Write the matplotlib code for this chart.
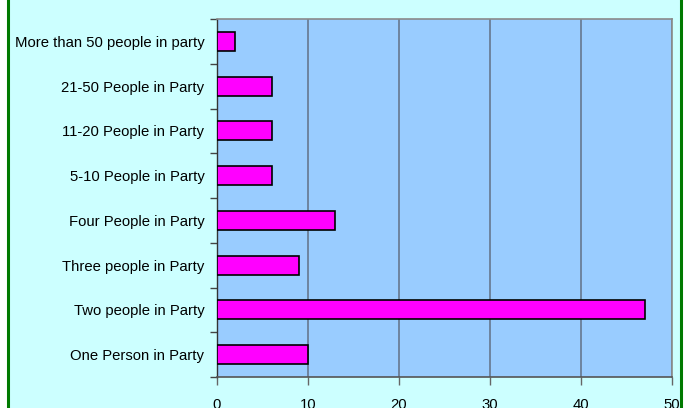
import matplotlib
matplotlib.use("Agg")
import matplotlib.pyplot as plt
from matplotlib.patches import Rectangle
from matplotlib.lines import Line2D

# categories bottom -> top
categories = ["One Person in Party", "Two people in Party", "Three people in Party",
              "Four People in Party", "5-10 People in Party", "11-20 People in Party",
              "21-50 People in Party", "More than 50 people in party"]
counts = [10, 47, 9, 13, 6, 6, 6, 2]
xticks = [0, 10, 20, 30, 40, 50]

plt.rcParams['font.family'] = ['Liberation Sans', 'DejaVu Sans']

fig = plt.figure(figsize=(6.88, 4.08), dpi=100)
fig.patch.set_facecolor("white")

W, H = 688.0, 408.0
# chart area background with green frame sides
fig.patches.append(Rectangle((8 / W, 0), (681 - 8) / W, 1, transform=fig.transFigure,
                             facecolor="#ccffff", edgecolor="none", zorder=-10))
for xx in (8, 681):
    fig.lines.append(Line2D([xx / W, xx / W], [0, 1], transform=fig.transFigure,
                            color="#007a00", lw=2.2, zorder=-5))

ax = fig.add_axes([217 / W, 1 - 377 / H, (672 - 217) / W, (377 - 19) / H])
ax.set_zorder(5)
ax.set_facecolor("#99ccff")

ypos = range(len(categories))
ax.barh(ypos, counts, height=0.42, color="#ff00ff", edgecolor="black", linewidth=1.2, zorder=3)

ax.set_xlim(0, 50)
ax.set_ylim(-0.5, len(categories) - 0.5)
ax.set_xticks(xticks)
ax.set_xticklabels([str(t) for t in xticks])
ax.set_yticks(list(ypos))
ax.set_yticklabels(categories)
ax.set_yticks([i - 0.5 for i in range(len(categories) + 1)], minor=True)

ax.xaxis.grid(True, color="#66778f", lw=1.2, zorder=1)
ax.set_axisbelow(True)

ax.tick_params(axis="y", which="major", length=0, pad=9, labelsize=10.7)
ax.tick_params(axis="y", which="minor", length=5, width=1, color="#444444", direction="out")
ax.tick_params(axis="x", length=6, width=1, color="#666666", pad=9, labelsize=10.7)

for s in ("top", "right"):
    ax.spines[s].set_color("#8a8a8a")
    ax.spines[s].set_linewidth(1.2)
ax.spines["left"].set_color("#333333")
ax.spines["bottom"].set_color("#555555")
ax.spines["left"].set_linewidth(1.0)
ax.spines["bottom"].set_linewidth(1.2)

fig.savefig("out.png", dpi=100, facecolor=fig.get_facecolor())
